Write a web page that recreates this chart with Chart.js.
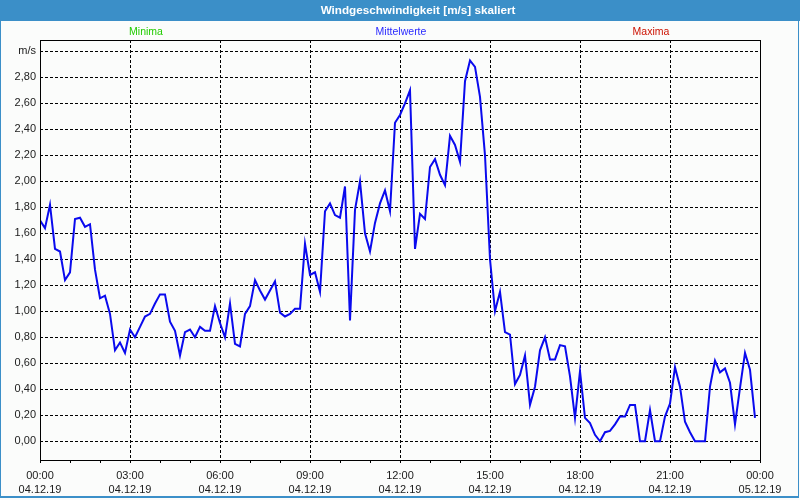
<!DOCTYPE html>
<html><head><meta charset="utf-8">
<script src="https://cdn.jsdelivr.net/npm/chart.js@4/dist/chart.umd.min.js"></script>
<style>html,body{margin:0;padding:0;background:#fff;overflow:hidden}#wrap{width:800px;height:500px;position:relative}canvas{display:block}</style>
</head><body><div id="wrap"><canvas id="c" width="800" height="500"></canvas></div>
<script>
const chartTitle = 'Windgeschwindigkeit [m/s] skaliert';
const seriesNames = ['Minima', 'Mittelwerte', 'Maxima'];
const seriesColors = ['#22cc00', '#2a2aff', '#cc1100'];
const intervalMinutes = 10;
// Mittelwerte, one value per 10 minutes, 04.12.19 00:00 - 23:50
const values = [
  1.70, 1.64, 1.82, 1.48, 1.46, 1.24, 1.30, 1.71, 1.72, 1.65, 1.67, 1.32,
  1.10, 1.12, 0.98, 0.70, 0.76, 0.68, 0.86, 0.80, 0.88, 0.96, 0.98, 1.06,
  1.13, 1.13, 0.92, 0.85, 0.66, 0.84, 0.86, 0.80, 0.88, 0.85, 0.85, 1.04,
  0.91, 0.80, 1.06, 0.75, 0.73, 0.98, 1.04, 1.24, 1.16, 1.09, 1.16, 1.23,
  0.99, 0.96, 0.98, 1.02, 1.02, 1.52, 1.28, 1.30, 1.15, 1.77, 1.83, 1.74,
  1.72, 1.96, 0.93, 1.78, 2.00, 1.60, 1.46, 1.68, 1.83, 1.93, 1.77, 2.45,
  2.51, 2.60, 2.70, 1.48, 1.75, 1.71, 2.11, 2.17, 2.05, 1.97, 2.35, 2.28,
  2.15, 2.77, 2.93, 2.88, 2.65, 2.20, 1.40, 1.00, 1.15, 0.84, 0.82, 0.44,
  0.51, 0.66, 0.28, 0.42, 0.70, 0.80, 0.63, 0.63, 0.74, 0.73, 0.50, 0.18,
  0.54, 0.18, 0.14, 0.05, 0.00, 0.07, 0.08, 0.13, 0.19, 0.19, 0.28, 0.28,
  0.00, 0.00, 0.24, 0.00, 0.00, 0.19, 0.29, 0.57, 0.42, 0.15, 0.07, 0.00,
  0.00, 0.00, 0.42, 0.62, 0.53, 0.56, 0.45, 0.13, 0.41, 0.68, 0.55, 0.18
];
const yTicks = [0, 0.2, 0.4, 0.6, 0.8, 1.0, 1.2, 1.4, 1.6, 1.8, 2.0, 2.2, 2.4, 2.6, 2.8, 3.0];
const yUnit = 'm/s';
const yMin = -0.144, yMax = 3.087;
const xTickMinutes = [0,60,120,180,240,300,360,420,480,540,600,660,720,780,840,900,960,1020,1080,1140,1200,1260,1320,1380,1440];
const xLabelTimes = ['00:00','03:00','06:00','09:00','12:00','15:00','18:00','21:00','00:00'];
const xLabelDates = ['04.12.19','04.12.19','04.12.19','04.12.19','04.12.19','04.12.19','04.12.19','04.12.19','05.12.19'];

const FONT = "'Liberation Sans', Arial, sans-serif";

const framePlugin = {
  id: 'frame',
  beforeDraw(chart) {
    const ctx = chart.ctx;
    ctx.save();
    ctx.fillStyle = '#fbfcfb';
    ctx.fillRect(0, 0, 800, 500);
    ctx.fillStyle = '#3b8fc8';
    ctx.fillRect(0, 0, 800, 21);
    ctx.fillRect(0, 21, 1, 477);
    ctx.fillRect(798, 21, 1, 477);
    ctx.fillRect(0, 496, 799, 2);
    ctx.fillStyle = '#ffffff';
    ctx.font = 'bold 11.7px ' + FONT;
    ctx.textAlign = 'center';
    ctx.textBaseline = 'middle';
    ctx.fillText(chartTitle, 418, 10.5);
    ctx.font = '10.5px ' + FONT;
    const xs = [146, 401, 651];
    seriesNames.forEach((n, i) => {
      ctx.fillStyle = seriesColors[i];
      ctx.fillText(n, xs[i], 32);
    });
    ctx.restore();
  },
  afterDraw(chart) {
    const a = chart.chartArea;
    const ctx = chart.ctx;
    ctx.save();
    ctx.strokeStyle = '#000';
    ctx.lineWidth = 1;
    ctx.strokeRect(a.left + 0.5, a.top + 0.5, a.right - a.left, a.bottom - a.top);
    ctx.restore();
  }
};

new Chart(document.getElementById('c'), {
  type: 'line',
  data: {
    datasets: [{
      label: seriesNames[1],
      data: values.map((v, i) => ({ x: i * intervalMinutes, y: v })),
      borderColor: '#0a0aee',
      borderWidth: 2,
      pointRadius: 0,
      tension: 0,
      fill: false
    }]
  },
  options: {
    responsive: false,
    animation: false,
    events: [],
    layout: { padding: { left: 0, right: 40, top: 40, bottom: 0 } },
    plugins: { legend: { display: false }, tooltip: { enabled: false }, title: { display: false } },
    scales: {
      x: {
        type: 'linear',
        min: 0,
        max: 1440,
        afterBuildTicks: s => { s.ticks = xTickMinutes.map(v => ({ value: v })); },
        afterFit: s => { s.height = 40; },
        ticks: {
          autoSkip: false,
          maxRotation: 0,
          padding: 6,
          color: '#1a1a1a',
          font: { family: FONT, size: 11, lineHeight: '14px' },
          callback: v => (v % 180 === 0) ? [xLabelTimes[v / 180], xLabelDates[v / 180]] : ''
        },
        grid: {
          color: c => (c.tick && c.tick.value % 180 === 0) ? '#000' : 'rgba(0,0,0,0)',
          lineWidth: 1,
          tickColor: '#000',
          tickLength: 3,
          drawTicks: true
        },
        border: { display: false, dash: [3, 2] }
      },
      y: {
        min: yMin,
        max: yMax,
        afterBuildTicks: s => { s.ticks = yTicks.map(v => ({ value: v })); },
        afterFit: s => { s.width = 40; },
        ticks: {
          padding: 4,
          color: '#1a1a1a',
          font: { family: FONT, size: 11 },
          callback: v => Math.abs(v - 3) < 1e-6 ? yUnit : v.toFixed(2).replace('.', ',')
        },
        grid: { color: '#000', lineWidth: 1, drawTicks: false },
        border: { display: false, dash: [3, 2] }
      }
    }
  },
  plugins: [framePlugin]
});
</script>
</body></html>
